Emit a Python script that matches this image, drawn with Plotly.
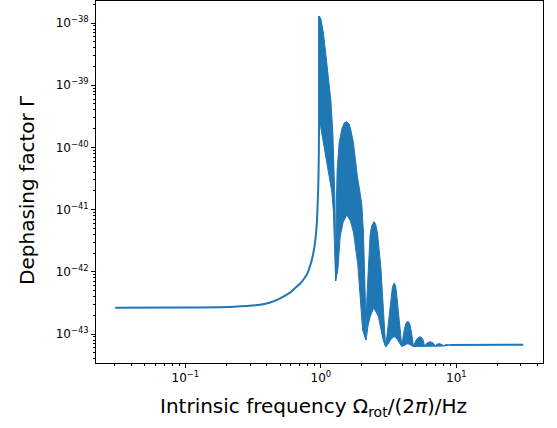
import plotly.graph_objects as go

# Smooth part of the curve (flat baseline, rise to the resonance peak)
curve_x = [0.0303, 0.0915, 0.1806, 0.2844, 0.3565, 0.4224, 0.5007, 0.5451, 0.5934, 0.6460,
           0.7036, 0.7404, 0.7791, 0.8057, 0.8337, 0.8553, 0.8773, 0.8923, 0.9078, 0.9233,
           0.9359, 0.9455, 0.9552, 0.9617, 0.9666, 0.9699, 0.9715]
curve_y = [2.647e-43, 2.657e-43, 2.697e-43, 2.819e-43, 2.948e-43, 3.209e-43, 3.750e-43, 4.128e-43,
           4.647e-43, 5.490e-43, 6.484e-43, 7.383e-43, 8.720e-43, 1.011e-42, 1.263e-42, 1.519e-42,
           1.933e-42, 2.369e-42, 3.128e-42, 4.364e-42, 6.557e-42, 1.101e-41, 2.066e-41, 4.022e-41,
           9.082e-41, 3.318e-40, 1.296e-38]

# Upper envelope of the fast oscillation
upper_x = [0.9715, 1.0, 1.045, 1.107, 1.185, 1.226, 1.254, 1.27, 1.28, 1.2856,
           1.2925, 1.3035, 1.3192, 1.3648, 1.4289, 1.4856, 1.5556, 1.6176, 1.6651, 1.74,
           1.791, 1.8624, 1.9336, 2.0072, 2.0624, 2.105, 2.1302, 2.1483,
           2.1852, 2.2457, 2.3112, 2.3709, 2.4654, 2.5378, 2.6166, 2.7729, 2.8688, 2.9478, 3.0077,
           3.1117, 3.1921, 3.2857, 3.3763, 3.4749, 3.5647, 3.6382, 3.751, 3.8478, 3.9609,
           4.0838, 4.225, 4.3856, 4.5376, 4.6785, 4.8236,
           5.0076, 5.2249, 5.4056, 5.6407, 5.8356,
           6.0881, 6.4063, 6.7425, 6.9757,
           7.2168, 7.5038, 7.7896, 8.0599, 8.4803, 9.0]
upper_y = [1.296e-38, 1.159e-38, 6.906e-39, 1.962e-39, 5.782e-40, 1.704e-40, 4.841e-41, 1.427e-41, 3.246e-42, 7.114e-43,
           3.246e-42, 1.427e-41, 4.331e-41, 1.177e-40, 1.976e-40, 2.468e-40, 2.589e-40, 2.378e-40, 1.904e-40, 1.177e-40,
           6.272e-41, 3.343e-41, 2.066e-41, 1.186e-41, 4.205e-42, 1.195e-42, 3.521e-43, 8.006e-44,
           3.521e-43, 1.195e-42, 3.904e-42, 5.449e-42, 6.390e-42, 5.868e-42, 4.205e-42, 1.195e-42, 3.521e-43, 1.038e-43, 6.180e-44,
           1.159e-43, 2.021e-43, 3.792e-43, 5.696e-43, 6.605e-43, 5.911e-43, 4.082e-43, 2.021e-43, 1.038e-43, 6.295e-44,
           1.038e-43, 1.448e-43, 1.618e-43, 1.448e-43, 1.038e-43, 6.295e-44,
           7.717e-44, 8.784e-44, 9.049e-44, 8.466e-44, 6.414e-44,
           7.167e-44, 7.519e-44, 7.167e-44, 6.414e-44,
           6.855e-44, 7.036e-44, 6.855e-44, 6.533e-44, 6.78e-44, 6.656e-44]

# Lower envelope of the fast oscillation
lower_x = [0.9715, 0.9765, 1.0, 1.0399, 1.107, 1.1574, 1.2056, 1.2388, 1.2642, 1.2856,
           1.335, 1.3882, 1.4609, 1.5556, 1.6538, 1.746, 1.8751, 1.95, 2.0346, 2.1483,
           2.1778, 2.234, 2.3112, 2.4445, 2.5594, 2.6615, 2.7871, 2.8835, 3.0077,
           3.1382, 3.3025, 3.4749, 3.6568, 3.8478, 3.9609,
           4.1892, 4.3856, 4.5997, 4.8236,
           5.3147, 5.8356, 6.4063, 6.9757, 7.5935, 8.0599, 9.0]
lower_y = [1.296e-38, 3.992e-40, 2.051e-40, 1.221e-40, 6.272e-41, 3.221e-41, 1.919e-41, 9.150e-42, 2.697e-42, 7.114e-43,
           1.069e-42, 3.667e-42, 6.318e-42, 8.188e-42, 6.557e-42, 4.205e-42, 1.286e-42, 3.521e-43, 1.159e-43, 8.006e-44,
           9.286e-44, 1.395e-43, 1.897e-43, 2.589e-43, 2.258e-43, 1.897e-43, 1.159e-43, 8.006e-44, 6.180e-44,
           6.905e-44, 8.311e-44, 9.117e-44, 8.311e-44, 6.905e-44, 6.295e-44,
           6.656e-44, 7.036e-44, 6.656e-44, 6.295e-44,
           6.414e-44, 6.295e-44, 6.414e-44, 6.295e-44, 6.414e-44, 6.414e-44, 6.656e-44]

# Flat high-frequency tail
tail_x = [9.0, 15.0, 31.2]
tail_y = [6.656e-44, 6.75e-44, 6.75e-44]

x_tickvals = [0.1, 1, 10]
x_ticktext = ["10<sup>\u22121</sup>", "10<sup>0</sup>", "10<sup>1</sup>"]
y_tickvals = [1e-43, 1e-42, 1e-41, 1e-40, 1e-39, 1e-38]
y_ticktext = ["10<sup>\u221243</sup>", "10<sup>\u221242</sup>", "10<sup>\u221241</sup>",
              "10<sup>\u221240</sup>", "10<sup>\u221239</sup>", "10<sup>\u221238</sup>"]

color = "#1f77b4"
fig = go.Figure()
fig.add_trace(go.Scatter(x=upper_x + lower_x[::-1], y=upper_y + lower_y[::-1],
                         mode="lines", fill="toself", fillcolor=color,
                         line=dict(color=color, width=1), hoverinfo="skip"))
fig.add_trace(go.Scatter(x=curve_x, y=curve_y, mode="lines",
                         line=dict(color=color, width=2, shape="spline", smoothing=0.6)))
fig.add_trace(go.Scatter(x=tail_x, y=tail_y, mode="lines", line=dict(color=color, width=2)))

font = dict(family="DejaVu Sans", color="black")
axis_common = dict(type="log", showline=True, mirror=True, linecolor="black", linewidth=1,
                   ticks="outside", ticklen=4, tickwidth=1, tickcolor="black",
                   showgrid=False, zeroline=False, tickfont=dict(size=12, **font),
                   minor=dict(ticks="outside", ticklen=2, tickcolor="black", dtick="D1", showgrid=False))
fig.update_layout(
    width=557, height=428, margin=dict(l=96, r=14, t=1, b=65),
    plot_bgcolor="white", paper_bgcolor="white", showlegend=False,
    xaxis=dict(range=[-1.66, 1.64], tickmode="array", tickvals=x_tickvals, ticktext=x_ticktext, **axis_common),
    yaxis=dict(range=[-43.466, -37.646], tickmode="array", tickvals=y_tickvals, ticktext=y_ticktext, **axis_common),
    annotations=[
        dict(text="Intrinsic frequency \u03a9<sub>rot</sub>/(2<i>\u03c0</i>)/Hz", xref="paper", yref="paper",
             x=0.487, y=-0.1215, xanchor="center", yanchor="middle", showarrow=False,
             font=dict(size=20, **font)),
        dict(text="Dephasing factor \u0393", xref="paper", yref="paper", x=-0.1544, y=0.478,
             xanchor="center", yanchor="middle", textangle=-90, showarrow=False,
             font=dict(size=20, **font)),
    ],
)
fig.write_html("out.html")
